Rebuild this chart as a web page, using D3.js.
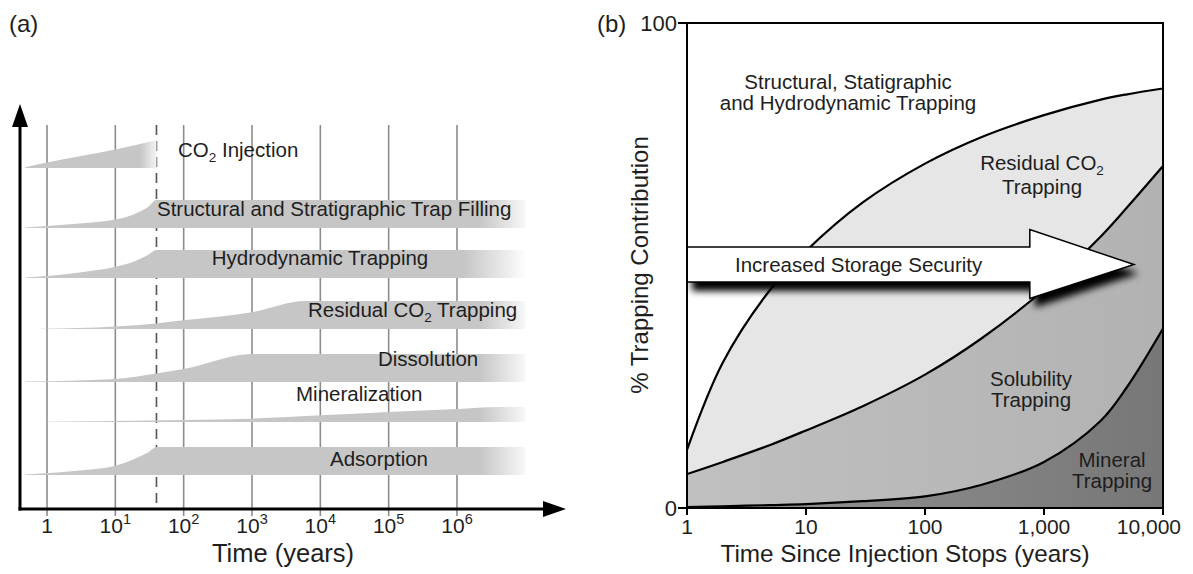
<!DOCTYPE html>
<html><head><meta charset="utf-8">
<script src="https://cdn.jsdelivr.net/npm/d3@7"></script>
<style>
body{margin:0;background:#fff;}
svg{display:block;font-family:"Liberation Sans",Arial,Helvetica,sans-serif;}
</style></head><body>
<svg id="fig" width="1193" height="574"></svg>
<script>
// ---------- Panel (a): trapping mechanisms versus time ----------
const mechanisms = ["CO2 Injection", "Structural and Stratigraphic Trap Filling", "Hydrodynamic Trapping",
  "Residual CO2 Trapping", "Dissolution", "Mineralization", "Adsorption"];
// [time (years), relative strength] along each mechanism's ribbon
const injectionProfile   = [[0.48,0.03],[1,0.2],[3,0.42],[10,0.66],[40,1]];
const structuralProfile  = [[0.48,0.02],[1,0.07],[3,0.16],[10,0.3],[20,0.52],[30,0.75],[40,1],[1e7,1]];
const hydroProfile       = [[0.48,0.02],[1,0.07],[3,0.2],[10,0.4],[20,0.62],[30,0.82],[40,1],[1e7,1]];
const residualProfile    = [[0.8,0.01],[10,0.09],[40,0.2],[100,0.31],[1000,0.6],[6000,1],[1e7,1]];
const dissolutionProfile = [[0.48,0.02],[10,0.11],[40,0.3],[100,0.46],[1000,1],[1e7,1]];
const mineralProfile     = [[1,0.01],[100,0.07],[1000,0.12],[1e4,0.24],[1e5,0.36],[1e6,0.46],[4e6,0.54],[1e7,0.54]];
const adsorptionProfile  = [[0.48,0.02],[1,0.06],[3,0.16],[10,0.33],[20,0.6],[30,0.8],[40,1],[1e7,1]];
const profiles = [injectionProfile, structuralProfile, hydroProfile, residualProfile,
  dissolutionProfile, mineralProfile, adsorptionProfile];
const decadeExponents = [0, 1, 2, 3, 4, 5, 6];
const injectionStops = 40; // years

// ---------- Panel (b): trapping contribution after injection ----------
const timeSinceStop   = [1, 2, 5, 10, 30, 100, 300, 1000, 3000, 5000, 10000];
const structuralLimit = [12, 30, 45, 53, 63, 71, 76.5, 81, 84.2, 85.3, 86.5];       // upper edge of residual trapping
const residualLimit   = [7, 9.5, 13, 16, 21, 27.5, 35, 45, 56, 62, 70.5];           // upper edge of solubility trapping
const solubilityLimit = [0.2, 0.35, 0.6, 0.8, 1.4, 2.4, 4.8, 9.5, 18, 25, 37];      // upper edge of mineral trapping
const bTickValues = [1, 10, 100, 1000, 10000];
const bTickLabels = ["1", "10", "100", "1,000", "10,000"];
const yTickValues = [0, 100];

const svg = d3.select("#fig");
const ink = "#1e1e1e";
const labelSize = 20.5;

// ===================== Panel (a) =====================
const xa = d3.scaleLog().domain([1, 1e6]).range([47, 457]);
const axisY = 509, axisX = 20, gridTop = 125;
const rowBase = [168, 228, 278, 329, 382, 422, 475];
const fullHeight = 28;

const gA = svg.append("g");
const defs = svg.append("defs");

// fade-out at the right end of ribbons
function fadeGrad(id, x1, x2) {
  const g = defs.append("linearGradient").attr("id", id).attr("gradientUnits", "userSpaceOnUse")
    .attr("x1", x1).attr("x2", x2).attr("y1", 0).attr("y2", 0);
  g.append("stop").attr("offset", 0).attr("stop-color", "#c6c6c6");
  g.append("stop").attr("offset", 1).attr("stop-color", "#ffffff");
}
fadeGrad("fadeLong", 480, 532);
fadeGrad("fadeHydro", 464, 527);
fadeGrad("fadeShort", 140, 160);

// grid lines per decade
gA.selectAll("line.grid").data(decadeExponents).join("line")
  .attr("x1", d => xa(10 ** d)).attr("x2", d => xa(10 ** d))
  .attr("y1", gridTop).attr("y2", axisY + 7)
  .attr("stroke", "#8c8c8c").attr("stroke-width", 1.6);

// end of injection
gA.append("line").attr("x1", xa(injectionStops)).attr("x2", xa(injectionStops))
  .attr("y1", gridTop).attr("y2", axisY)
  .attr("stroke", "#555").attr("stroke-width", 1.6).attr("stroke-dasharray", "10,6");

// ribbons
profiles.forEach((p, i) => {
  const area = d3.area()
    .x(d => xa(d[0]))
    .y0(rowBase[i])
    .y1(d => rowBase[i] - d[1] * fullHeight)
    .curve(d3.curveMonotoneX);
  const fill = i === 0 ? "url(#fadeShort)" : (i === 2 ? "url(#fadeHydro)" : "url(#fadeLong)");
  gA.append("path").attr("d", area(p)).attr("fill", fill);
});

// ribbon labels
function labelWithSub(g, x, y, parts, anchor) {
  const t = g.append("text").attr("x", x).attr("y", y).attr("font-size", labelSize)
    .attr("fill", ink).attr("text-anchor", anchor || "start");
  parts.forEach(([s, sub]) => {
    if (sub) t.append("tspan").text(s).attr("font-size", 13.5).attr("dy", 5);
    else t.append("tspan").text(s).attr("dy", t.selectAll("tspan").size() ? -5 : 0);
  });
  return t;
}
labelWithSub(gA, 178, 162, [["CO"], ["2", true], [" Injection"]]);
labelWithSub(gA, 157, 221, [[mechanisms[1]]]);
labelWithSub(gA, 320, 270, [[mechanisms[2]]], "middle");
labelWithSub(gA, 308, 322, [["Residual CO"], ["2", true], [" Trapping"]]);
labelWithSub(gA, 378, 371, [[mechanisms[4]]]);
labelWithSub(gA, 296, 406, [[mechanisms[5]]]);
labelWithSub(gA, 330, 471, [[mechanisms[6]]]);

// axes with arrow heads
gA.append("line").attr("x1", axisX).attr("x2", axisX).attr("y1", axisY + 1.5).attr("y2", 122)
  .attr("stroke", "#000").attr("stroke-width", 3);
gA.append("path").attr("d", `M${axisX - 8},127 L${axisX},104 L${axisX + 8},127 Z`).attr("fill", "#000");
gA.append("line").attr("x1", axisX - 1.5).attr("x2", 546).attr("y1", axisY).attr("y2", axisY)
  .attr("stroke", "#000").attr("stroke-width", 3);
gA.append("path").attr("d", `M543,${axisY - 8} L566,${axisY} L543,${axisY + 8} Z`).attr("fill", "#000");

// decade labels
decadeExponents.forEach(e => {
  const t = gA.append("text").attr("x", xa(10 ** e)).attr("y", 533).attr("font-size", 21)
    .attr("fill", ink).attr("text-anchor", "middle");
  if (e === 0) t.text("1");
  else {
    t.append("tspan").text("10");
    t.append("tspan").text(e).attr("font-size", 14.5).attr("dy", -9);
  }
});
gA.append("text").attr("x", 283).attr("y", 562).attr("font-size", 25.5).attr("fill", ink)
  .attr("text-anchor", "middle").text("Time (years)");
gA.append("text").attr("x", 9).attr("y", 32).attr("font-size", 24).attr("fill", ink).text("(a)");

// ===================== Panel (b) =====================
const xb = d3.scaleLog().domain([1, 10000]).range([687, 1163]);
const yb = d3.scaleLinear().domain([0, 100]).range([508, 23]);
const gB = svg.append("g");

defs.append("clipPath").attr("id", "plotClip").append("rect")
  .attr("x", xb(1)).attr("y", yb(100)).attr("width", xb(10000) - xb(1)).attr("height", yb(0) - yb(100));

function hGrad(id, c1, c2) {
  const g = defs.append("linearGradient").attr("id", id).attr("x1", 0).attr("x2", 1).attr("y1", 0).attr("y2", 0);
  g.append("stop").attr("offset", 0).attr("stop-color", c1);
  g.append("stop").attr("offset", 1).attr("stop-color", c2);
}
hGrad("solGrad", "#c0c0c0", "#b2b2b2");
hGrad("minGrad", "#969696", "#777777");

const rows = timeSinceStop.map((t, i) => ({ t, s: structuralLimit[i], r: residualLimit[i], m: solubilityLimit[i] }));
const smooth = d3.curveCatmullRom.alpha(0.5);
const mkArea = (lo, hi) => d3.area().x(d => xb(d.t)).y0(d => yb(lo(d))).y1(d => yb(hi(d))).curve(smooth);
const mkLine = acc => d3.line().x(d => xb(d.t)).y(d => yb(acc(d))).curve(smooth);

const plot = gB.append("g").attr("clip-path", "url(#plotClip)");
plot.append("path").attr("d", mkArea(d => d.r, d => d.s)(rows)).attr("fill", "#e6e6e6");
plot.append("path").attr("d", mkArea(d => d.m, d => d.r)(rows)).attr("fill", "url(#solGrad)");
plot.append("path").attr("d", mkArea(() => 0, d => d.m)(rows)).attr("fill", "url(#minGrad)");
[d => d.s, d => d.r, d => d.m].forEach(acc => {
  plot.append("path").attr("d", mkLine(acc)(rows)).attr("fill", "none")
    .attr("stroke", "#000").attr("stroke-width", 2.2);
});

// storage security arrow
const arrowBodyEnd = 760, arrowTip = 5700;
const arrowPts = [[1, 53.8], [arrowBodyEnd, 53.8], [arrowBodyEnd, 57.4], [arrowTip, 50.2],
  [arrowBodyEnd, 43.2], [arrowBodyEnd, 46.6], [1, 46.6]];
const arrowPath = d3.line().x(d => xb(d[0])).y(d => yb(d[1]))(arrowPts) + "Z";
const shadow = defs.append("filter").attr("id", "shadow").attr("x", "-10%").attr("y", "-50%")
  .attr("width", "130%").attr("height", "250%");
shadow.append("feGaussianBlur").attr("stdDeviation", 3.5);
plot.append("path").attr("d", arrowPath).attr("fill", "#000")
  .attr("transform", "translate(5,9)").attr("filter", "url(#shadow)");
plot.append("path").attr("d", arrowPath).attr("fill", "#fff").attr("stroke", "#000").attr("stroke-width", 1.5);
gB.append("text").attr("x", 735).attr("y", 272).attr("font-size", labelSize).attr("fill", ink)
  .text("Increased Storage Security");

// frame
gB.append("rect").attr("x", xb(1)).attr("y", yb(100)).attr("width", xb(10000) - xb(1))
  .attr("height", yb(0) - yb(100)).attr("fill", "none").attr("stroke", "#000").attr("stroke-width", 2);

// region labels
function multiLabel(x, y, lines) {
  const t = gB.append("text").attr("x", x).attr("y", y).attr("font-size", labelSize)
    .attr("fill", ink).attr("text-anchor", "middle");
  lines.forEach((ln, i) => {
    t.append("tspan").attr("x", x).attr("dy", i === 0 ? 0 : 21).text(ln);
  });
}
multiLabel(848, 89, ["Structural, Statigraphic", "and Hydrodynamic Trapping"]);
const resLbl = gB.append("text").attr("x", 1042).attr("y", 170).attr("font-size", labelSize)
  .attr("fill", ink).attr("text-anchor", "middle");
resLbl.append("tspan").text("Residual CO");
resLbl.append("tspan").text("2").attr("font-size", 13.5).attr("dy", 5);
gB.append("text").attr("x", 1042).attr("y", 194).attr("font-size", labelSize).attr("fill", ink)
  .attr("text-anchor", "middle").text("Trapping");
multiLabel(1031, 386, ["Solubility", "Trapping"]);
multiLabel(1112, 467, ["Mineral", "Trapping"]);

// axis ticks and labels
gB.selectAll("line.xt").data(bTickValues).join("line")
  .attr("x1", d => xb(d)).attr("x2", d => xb(d)).attr("y1", yb(0)).attr("y2", yb(0) + 7)
  .attr("stroke", "#000").attr("stroke-width", 2);
gB.selectAll("text.xt").data(bTickValues).join("text")
  .attr("x", (d, i) => i === bTickValues.length - 1 ? 1181 : xb(d))
  .attr("text-anchor", (d, i) => i === bTickValues.length - 1 ? "end" : "middle")
  .attr("y", 534).attr("font-size", 21).attr("fill", ink)
  .text((d, i) => bTickLabels[i]);
gB.selectAll("line.yt").data(yTickValues).join("line")
  .attr("x1", xb(1) - 9).attr("x2", xb(1)).attr("y1", d => yb(d)).attr("y2", d => yb(d))
  .attr("stroke", "#000").attr("stroke-width", 2);
gB.selectAll("text.yt").data(yTickValues).join("text")
  .attr("x", xb(1) - 10).attr("y", d => yb(d) + 8).attr("text-anchor", "end")
  .attr("font-size", 22).attr("fill", ink).text(d => d);
gB.append("text").attr("x", 905).attr("y", 562).attr("font-size", 24.3).attr("fill", ink)
  .attr("text-anchor", "middle").text("Time Since Injection Stops (years)");
gB.append("text").attr("transform", "translate(648,265) rotate(-90)").attr("font-size", 24)
  .attr("fill", ink).attr("text-anchor", "middle").text("% Trapping Contribution");
gB.append("text").attr("x", 597).attr("y", 32).attr("font-size", 24).attr("fill", ink).text("(b)");
</script>
</body></html>
